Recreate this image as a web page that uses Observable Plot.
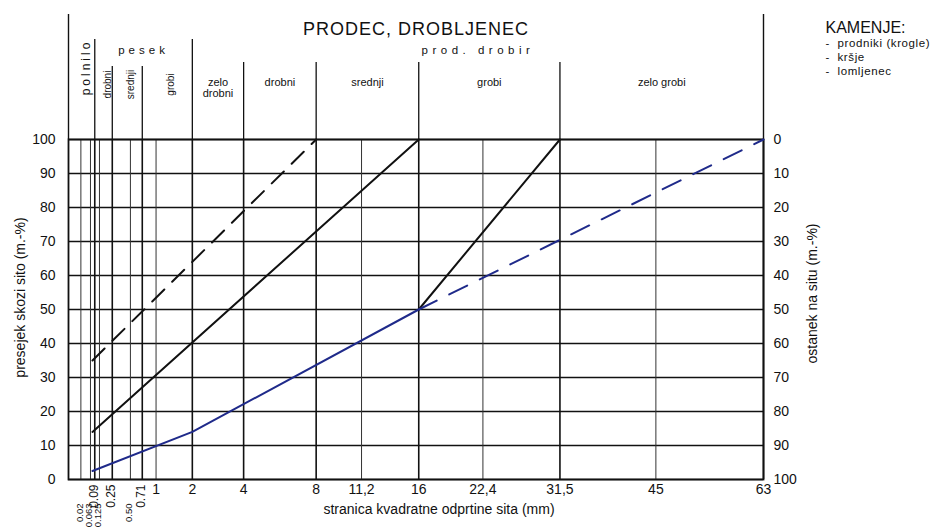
<!DOCTYPE html>
<html>
<head>
<meta charset="utf-8">
<script src="https://cdn.jsdelivr.net/npm/d3@7"></script>
<script src="https://cdn.jsdelivr.net/npm/@observablehq/plot@0.6"></script>
<style>
  html, body { margin: 0; padding: 0; background: #fff; }
  #chart { width: 944px; height: 532px; }
</style>
</head>
<body>
<div id="chart"></div>
<script>
// ---- data ----
const sieves = [0.02, 0.063, 0.09, 0.125, 0.25, 0.5, 0.71, 1, 2, 4, 8, 11.2, 16, 22.4, 31.5, 45, 63];
const majorSieves = [0.09, 0.25, 0.71, 2, 4, 8, 16, 31.5, 63];
const percentTicks = [0, 10, 20, 30, 40, 50, 60, 70, 80, 90, 100];

const mainTickValues = [1, 2, 4, 8, 11.2, 16, 22.4, 31.5, 45, 63];
const mainTickLabels = ["1", "2", "4", "8", "11,2", "16", "22,4", "31,5", "45", "63"];
const upperRotTickValues = [0.09, 0.25, 0.71];
const upperRotTickLabels = ["0.09", "0.25", "0.71"];
const lowerRotTickValues = [0.02, 0.063, 0.125, 0.5];
const lowerRotTickLabels = ["0.02", "0.063", "0.125", "0.50"];

// grading curves (sieve size mm, passing %)
const dashedBlackX = [0.075, 8];
const dashedBlackY = [35, 100];
const solidBlackX = [0.075, 16];
const solidBlackY = [14, 100];
const lowerX = [0.075, 2, 16];
const lowerY = [2.5, 14, 50];
const branchSolidX = [16, 31.5];
const branchSolidY = [50, 100];
const branchDashedX = [16, 63];
const branchDashedY = [50, 100];

// classification zones
const mainZoneBounds = [0, 0.09, 2, 63];
const mainZoneLabels = ["polnilo", "pesek", "prod. drobir"];
const sandZoneBounds = [0.09, 0.25, 0.71, 2];
const sandZoneLabels = ["drobni", "srednji", "grobi"];
const gravelZoneBounds = [2, 4, 8, 16, 31.5, 63];
const gravelZoneLabels = ["zelo\ndrobni", "drobni", "srednji", "grobi", "zelo grobi"];

const titleText = "PRODEC, DROBLJENEC";
const legendTitle = "KAMENJE:";
const legendItems = ["-  prodniki (krogle)", "-  kršje", "-  lomljenec"];
const yLabelLeft = "presejek skozi sito (m.-%)";
const yLabelRight = "ostanek na situ (m.-%)";
const xLabel = "stranica kvadratne odprtine sita (mm)";

// ---- helpers ----
const pts = (xs, ys) => xs.map((x, i) => ({x, y: ys[i]}));
const mid = (a, b) => ((Math.sqrt(a) + Math.sqrt(b)) / 2) ** 2; // midpoint in sqrt space
const zones = (bounds, labels) => labels.map((label, i) => ({x: mid(bounds[i], bounds[i + 1]), label}));
const tickData = (vals, labels) => vals.map((x, i) => ({x, label: labels[i]}));

const INK = "#111";
const NAVY = "#1f2a8a";
const FONT = "Liberation Sans, Arial, sans-serif";

const plot = Plot.plot({
  width: 944,
  height: 532,
  marginLeft: 68,
  marginRight: 181,
  marginTop: 139,
  marginBottom: 53,
  style: {fontFamily: FONT, fontSize: "14px", background: "#fff", color: INK},
  x: {type: "sqrt", domain: [0, 63], axis: null},
  y: {domain: [0, 100], axis: null},
  marks: [
    // horizontal grid
    Plot.ruleY(percentTicks, {stroke: INK, strokeWidth: 1.3}),
    // vertical grid
    Plot.ruleX(sieves.filter(d => !majorSieves.includes(d)), {stroke: "#333", strokeWidth: 1}),
    Plot.ruleX(majorSieves, {stroke: INK, strokeWidth: 1.6}),
    // header division lines
    Plot.ruleX([0, 63], {stroke: INK, strokeWidth: 1.4, insetTop: -125, insetBottom: 340}),
    Plot.ruleX([0.09, 2], {stroke: INK, strokeWidth: 1.3, insetTop: -100, insetBottom: 340}),
    Plot.ruleX([0.25, 0.71], {stroke: INK, strokeWidth: 1.3, insetTop: -73, insetBottom: 340}),
    Plot.ruleX([4, 8, 16, 31.5], {stroke: INK, strokeWidth: 1.3, insetTop: -77, insetBottom: 340}),
    Plot.frame({stroke: INK, strokeWidth: 1.8}),

    // curves
    Plot.line(pts(dashedBlackX, dashedBlackY), {x: "x", y: "y", stroke: INK, strokeWidth: 2, strokeDasharray: "17,11"}),
    Plot.line(pts(solidBlackX, solidBlackY), {x: "x", y: "y", stroke: INK, strokeWidth: 2}),
    Plot.line(pts(lowerX, lowerY), {x: "x", y: "y", stroke: NAVY, strokeWidth: 2}),
    Plot.line(pts(branchSolidX, branchSolidY), {x: "x", y: "y", stroke: INK, strokeWidth: 2}),
    Plot.line(pts(branchDashedX, branchDashedY), {x: "x", y: "y", stroke: NAVY, strokeWidth: 2, strokeDasharray: "20,14"}),

    // y axes
    Plot.axisY(percentTicks, {anchor: "left", tickSize: 0, tickPadding: 13, label: null, fontSize: 14}),
    Plot.axisY(percentTicks, {anchor: "right", tickSize: 0, tickPadding: 10, label: null, fontSize: 14, tickFormat: d => String(100 - d)}),
    Plot.text([yLabelLeft], {text: d => d, frameAnchor: "left", textAnchor: "middle", dx: -48, dy: -12, rotate: -90, fontSize: 14}),
    Plot.text([yLabelRight], {text: d => d, frameAnchor: "right", textAnchor: "middle", dx: 49, dy: -16, rotate: -90, fontSize: 14}),

    // x tick labels
    Plot.text(tickData(mainTickValues, mainTickLabels), {x: "x", text: "label", frameAnchor: "bottom", dy: 14, fontSize: 14}),
    Plot.text(tickData(upperRotTickValues, upperRotTickLabels), {x: "x", text: "label", frameAnchor: "bottom", dy: 5, dx: 3, rotate: -90, textAnchor: "end", fontSize: 12}),
    Plot.text(tickData(lowerRotTickValues, lowerRotTickLabels), {x: "x", text: "label", frameAnchor: "bottom", dy: 24, dx: 2, rotate: -90, textAnchor: "end", fontSize: 9.5}),
    Plot.text([xLabel], {text: d => d, frameAnchor: "bottom", dx: 23, dy: 34, fontSize: 14}),

    // header labels
    Plot.text([titleText], {text: d => d, frameAnchor: "top", dy: -117, fontSize: 18}),
    Plot.text(zones(mainZoneBounds, mainZoneLabels).slice(0, 1), {x: "x", text: "label", frameAnchor: "top", dy: -72, rotate: -90, fontSize: 12}),
    Plot.text(zones(mainZoneBounds, mainZoneLabels).slice(1), {x: "x", text: "label", frameAnchor: "top", dy: -94, fontSize: 11.5}),
    Plot.text(zones(sandZoneBounds, sandZoneLabels), {x: "x", text: "label", frameAnchor: "top", dy: -55, rotate: -90, fontSize: 10}),
    Plot.text(zones(gravelZoneBounds, gravelZoneLabels), {x: "x", text: "label", frameAnchor: "top", dy: -62, lineAnchor: "top", fontSize: 11, lineHeight: 1.05}),

    // legend block
    Plot.text([legendTitle], {text: d => d, frameAnchor: "top-right", dx: 62, dy: -118, textAnchor: "start", fontSize: 16}),
    Plot.text([legendItems.join("\n")], {text: d => d, frameAnchor: "top-right", dx: 62, dy: -102, textAnchor: "start", lineAnchor: "top", lineHeight: 1.2, fontSize: 11.5})
  ]
});

// letter-spaced header words (styling applied after render)
const svg = d3.select(plot);
const spaced = {"pesek": "4px", "prod. drobir": "4.5px", "polnilo": "3px", [titleText]: "1px"};
svg.selectAll("text").filter(function() { return spaced[this.textContent] !== undefined; })
  .attr("letter-spacing", function() { return spaced[this.textContent]; });
svg.selectAll("text").filter(function() { return this.textContent.includes("prodniki"); })
  .attr("letter-spacing", "0.6px");

document.getElementById("chart").appendChild(plot);
</script>
</body>
</html>
